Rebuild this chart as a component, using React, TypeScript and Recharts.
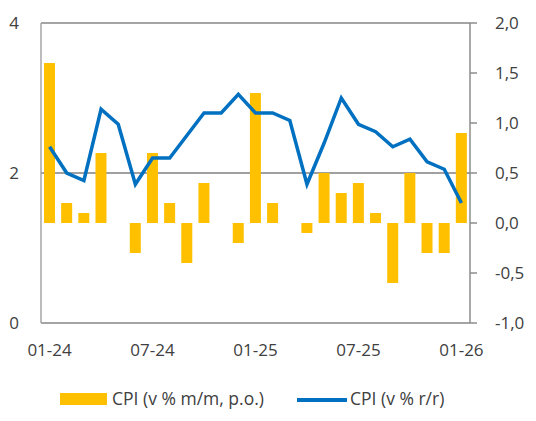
import { ComposedChart, Bar, Line, XAxis, YAxis, CartesianGrid, ReferenceLine, Legend } from 'recharts';

// months Jan 2024 .. Jan 2026
const months = [
  '01-24', '02-24', '03-24', '04-24', '05-24', '06-24', '07-24', '08-24', '09-24', '10-24', '11-24', '12-24',
  '01-25', '02-25', '03-25', '04-25', '05-25', '06-25', '07-25', '08-25', '09-25', '10-25', '11-25', '12-25',
  '01-26',
];

// CPI m/m (right axis)
const cpiMm = [1.6, 0.2, 0.1, 0.7, 0, -0.3, 0.7, 0.2, -0.4, 0.4, 0, -0.2, 1.3, 0.2, 0, -0.1, 0.5, 0.3, 0.4, 0.1, -0.6, 0.5, -0.3, -0.3, 0.9];

// CPI y/y (left axis)
const cpiYy = [2.35, 2.0, 1.9, 2.85, 2.65, 1.85, 2.2, 2.2, 2.5, 2.8, 2.8, 3.05, 2.8, 2.8, 2.7, 1.85, 2.4, 3.0, 2.65, 2.55, 2.35, 2.45, 2.15, 2.05, 1.6];

const leftTicks = [0, 2, 4];
const rightTicks = [-1, -0.5, 0, 0.5, 1, 1.5, 2];

const data = months.map((m, i) => ({ month: m, mm: cpiMm[i], yy: cpiYy[i] }));

const font = "'Open Sans', sans-serif";
const textColor = '#404040';
const axisGrey = '#a6a6a6';
const barColor = '#FFC000';
const lineColor = '#0070C0';

const LegendBox = () => (
  <div style={{ position: 'relative', height: 20, fontFamily: font, fontSize: 17.5, color: textColor }}>
    <div style={{ position: 'absolute', left: 60, top: 4, width: 47, height: 12, background: barColor }} />
    <span style={{ position: 'absolute', left: 112, top: -3, whiteSpace: 'nowrap' }}>CPI (v % m/m, p.o.)</span>
    <div style={{ position: 'absolute', left: 297, top: 9, width: 50, height: 3.5, background: lineColor }} />
    <span style={{ position: 'absolute', left: 350, top: -3, whiteSpace: 'nowrap' }}>CPI (v % r/r)</span>
  </div>
);

const App: React.FC = () => {
  return (
    <div style={{ position: 'absolute', left: 0, top: 0 }}>
      <ComposedChart width={536} height={421} data={data} margin={{ top: 23, right: 0, bottom: 0, left: 0 }} barSize={11}>
        <CartesianGrid yAxisId='left' vertical={false} stroke='#808080' strokeWidth={1.5} />
        <XAxis
          dataKey='month'
          interval={5}
          tickLine={false}
          axisLine={{ stroke: axisGrey, strokeWidth: 1.5 }}
          tick={{ fill: textColor, fontSize: 17, fontFamily: font }}
          tickMargin={15}
          height={78}
        />
        <YAxis
          yAxisId='left'
          domain={[0, 4]}
          ticks={leftTicks}
          width={41}
          tickLine={false}
          axisLine={{ stroke: axisGrey, strokeWidth: 1.5 }}
          tick={{ fill: textColor, fontSize: 17, fontFamily: font }}
          tickMargin={16}
        />
        <YAxis
          yAxisId='right'
          orientation='right'
          domain={[-1, 2]}
          ticks={rightTicks}
          width={66}
          tickSize={7}
          tickLine={{ stroke: '#8c8c8c', strokeWidth: 1.5 }}
          axisLine={{ stroke: '#8c8c8c', strokeWidth: 1.5 }}
          tick={{ fill: textColor, fontSize: 17, fontFamily: font }}
          tickMargin={18}
          tickFormatter={(v: number) => v.toFixed(1).replace('.', ',')}
        />
        <ReferenceLine yAxisId='left' y={4} stroke={axisGrey} strokeWidth={1.5} />
        <Bar yAxisId='right' dataKey='mm' name='CPI (v % m/m, p.o.)' fill={barColor} isAnimationActive={false} />
        <Line
          yAxisId='left'
          dataKey='yy'
          name='CPI (v % r/r)'
          stroke={lineColor}
          strokeWidth={3.5}
          dot={false}
          activeDot={false}
          type='linear'
          isAnimationActive={false}
        />
        <Legend verticalAlign='bottom' wrapperStyle={{ left: 0, width: 536, bottom: 12 }} content={() => <LegendBox />} />
      </ComposedChart>
    </div>
  );
};

export default App;
